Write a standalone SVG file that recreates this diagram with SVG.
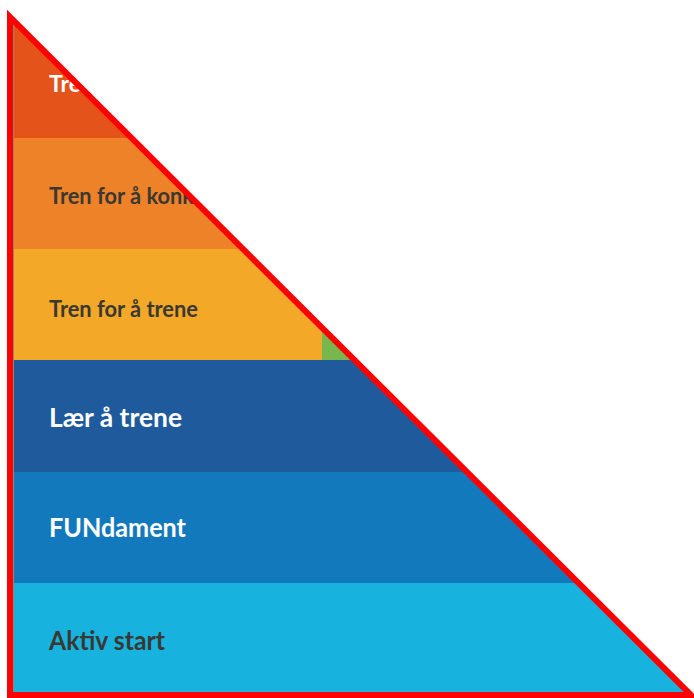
<svg xmlns="http://www.w3.org/2000/svg" width="694" height="698" viewBox="0 0 694 698">
<style>
.lbl{font-family:"Lato","Noto Sans","Liberation Sans",sans-serif;font-weight:700;}
.dark{fill:#3a3833;font-size:23px;}
.big{font-size:26px;}
.white{fill:#ffffff;}
</style>
<defs>
<clipPath id="tri"><polygon points="10,17 10,695 691,695"/></clipPath>
</defs>
<rect width="694" height="698" fill="#ffffff"/>
<g clip-path="url(#tri)">
<g id="band-vinne"><rect x="0" y="0" width="694" height="138" fill="#E4541A"/><text class="lbl white" x="49" y="92" font-size="23">Tre</text></g>
<g id="band-konkurrere"><rect x="0" y="138" width="694" height="111" fill="#EE8229"/><text class="lbl dark" x="49" y="204" textLength="145" lengthAdjust="spacingAndGlyphs">Tren for å konk</text></g>
<g id="band-trene"><rect x="0" y="249" width="694" height="111" fill="#F4A828"/><rect x="322" y="330" width="120" height="30" fill="#78B74E"/><text class="lbl dark" x="49" y="317" textLength="149" lengthAdjust="spacingAndGlyphs">Tren for å trene</text></g>
<g id="band-laer"><rect x="0" y="360" width="694" height="112" fill="#1F5A9C"/><text class="lbl big white" x="49" y="427" textLength="133" lengthAdjust="spacingAndGlyphs">Lær å trene</text></g>
<g id="band-fundament"><rect x="0" y="472" width="694" height="111" fill="#1379BD"/><text class="lbl big white" x="49" y="537" textLength="137" lengthAdjust="spacingAndGlyphs">FUNdament</text></g>
<g id="band-aktiv"><rect x="0" y="583" width="694" height="115" fill="#17B3DE"/><text class="lbl big" fill="#3a3833" x="49" y="650" textLength="116" lengthAdjust="spacingAndGlyphs">Aktiv start</text></g>
<line x1="13.5" y1="22" x2="13.5" y2="693" stroke="#8a8a7a" stroke-width="1"/>
</g>
<g id="connectors"></g>
<g id="outline"><polygon points="10,17 10,695 691,695" fill="none" stroke="#FF0000" stroke-width="6" stroke-linejoin="miter" stroke-miterlimit="3"/></g>
</svg>
